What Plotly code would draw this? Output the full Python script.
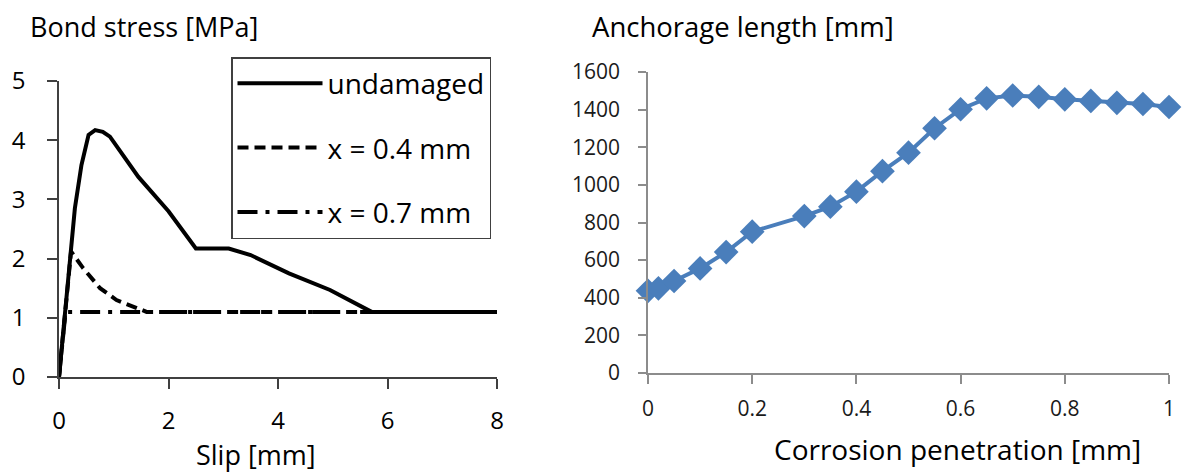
import plotly.graph_objects as go

# ---- Left chart: bond stress vs slip ----
slip_undamaged = [0, 0.11, 0.2, 0.29, 0.41, 0.54, 0.66, 0.8, 0.93, 1.2, 1.45, 2.0, 2.5, 3.1, 3.5, 4.2, 4.95, 5.71, 8]
tau_undamaged = [0, 1.05, 2.0, 2.85, 3.58, 4.09, 4.17, 4.14, 4.06, 3.72, 3.38, 2.8, 2.17, 2.17, 2.06, 1.75, 1.47, 1.1, 1.1]
slip_x04 = [0, 0.1, 0.22, 0.44, 0.75, 1.05, 1.42, 1.6, 8]
tau_x04 = [0, 1.0, 2.12, 1.84, 1.5, 1.3, 1.16, 1.1, 1.1]
slip_x07 = [0, 0.12, 8]
tau_x07 = [0, 1.1, 1.1]
names = ["undamaged", "x = 0.4 mm", "x = 0.7 mm"]

# ---- Right chart: anchorage length vs corrosion penetration ----
corrosion = [0, 0.02, 0.05, 0.1, 0.15, 0.2, 0.3, 0.35, 0.4, 0.45, 0.5, 0.55, 0.6, 0.65, 0.7, 0.75, 0.8, 0.85, 0.9, 0.95, 1.0]
anchorage = [437, 450, 489, 556, 643, 751, 834, 884, 964, 1073, 1171, 1301, 1402, 1460, 1475, 1468, 1455, 1446, 1436, 1430, 1414]

left_xticks = [0, 2, 4, 6, 8]
left_yticks = [0, 1, 2, 3, 4, 5]
right_xticks = [0, 0.2, 0.4, 0.6, 0.8, 1]
right_xtick_text = ["0", "0.2", "0.4", "0.6", "0.8", "1"]
right_yticks = list(range(0, 1601, 200))

W, H = 1182, 474
FONT = "Open Sans"

def px_x(p):
    return p / W

def px_y(p):
    return 1 - p / H

fig = go.Figure()

fig.add_trace(go.Scatter(x=slip_x07, y=tau_x07, mode="lines", name=names[2],
                         line=dict(color="black", width=4, dash="20px,8px,4px,8px"),
                         legendgroup="c", legendrank=3, xaxis="x", yaxis="y"))
fig.add_trace(go.Scatter(x=slip_x04, y=tau_x04, mode="lines", name=names[1],
                         line=dict(color="black", width=4, dash="11px,6px"),
                         legendgroup="b", legendrank=2, xaxis="x", yaxis="y"))
fig.add_trace(go.Scatter(x=slip_undamaged, y=tau_undamaged, mode="lines", name=names[0],
                         line=dict(color="black", width=4),
                         legendgroup="a", legendrank=1, xaxis="x", yaxis="y"))

fig.add_trace(go.Scatter(x=corrosion, y=anchorage, mode="lines+markers",
                         line=dict(color="#4a7ebb", width=4),
                         marker=dict(symbol="diamond", size=19, color="#4a7ebb"),
                         cliponaxis=False, showlegend=False, xaxis="x2", yaxis="y2"))

left_axis_color = "#404040"
right_axis_color = "#8c8c8c"

fig.update_layout(
    width=W, height=H,
    margin=dict(l=0, r=0, t=0, b=0, autoexpand=False),
    paper_bgcolor="white", plot_bgcolor="white",
    font=dict(family=FONT, color="black"),
    xaxis=dict(domain=[px_x(59), px_x(497)], range=[0, 8], tickvals=left_xticks, automargin=False,
               showgrid=False, zeroline=False, showline=True, linecolor=left_axis_color, linewidth=1.5,
               ticks="outside", ticklen=10, tickcolor=left_axis_color, tickwidth=1.5,
               tickfont=dict(size=24, family=FONT, color="black"), ticklabelstandoff=11),
    yaxis=dict(domain=[px_y(377), px_y(81)], range=[0, 5], tickvals=left_yticks, automargin=False,
               showgrid=False, zeroline=False, showline=True, linecolor=left_axis_color, linewidth=1.5,
               ticks="outside", ticklen=10, tickcolor=left_axis_color, tickwidth=1.5,
               tickfont=dict(size=24, family=FONT, color="black"), ticklabelstandoff=17),
    xaxis2=dict(domain=[px_x(648), px_x(1169)], range=[0, 1], tickvals=right_xticks,
                ticktext=right_xtick_text, anchor="y2", automargin=False,
                showgrid=False, zeroline=False, showline=True, linecolor=right_axis_color, linewidth=1.5,
                ticks="outside", ticklen=9, tickcolor=right_axis_color, tickwidth=1.5,
                tickfont=dict(size=21, family=FONT, color="#1a1a1a"), ticklabelstandoff=7),
    yaxis2=dict(domain=[px_y(373), px_y(72)], range=[0, 1600], tickvals=right_yticks, anchor="x2",
                automargin=False,
                showgrid=False, zeroline=False, showline=True, linecolor=right_axis_color, linewidth=1.5,
                ticks="outside", ticklen=8, tickcolor=right_axis_color, tickwidth=1.5,
                tickfont=dict(size=21, family=FONT, color="#1a1a1a"), ticklabelstandoff=14),
    legend=dict(x=px_x(231), y=px_y(57), xanchor="left", yanchor="top",
                bordercolor="#404040", borderwidth=1.5, bgcolor="white",
                font=dict(size=28, family=FONT, color="black"),
                tracegroupgap=25, itemwidth=85),
    showlegend=True,
)

annotations = [
    dict(text="Bond stress [MPa]", x=px_x(28), y=px_y(26), xanchor="left", yanchor="middle", size=27),
    dict(text="Anchorage length [mm]", x=px_x(590), y=px_y(27), xanchor="left", yanchor="middle", size=27.5),
    dict(text="Slip [mm]", x=px_x(256), y=px_y(454), xanchor="center", yanchor="middle", size=27),
    dict(text="Corrosion penetration [mm]", x=px_x(957), y=px_y(449), xanchor="center", yanchor="middle", size=28),
]
for a in annotations:
    fig.add_annotation(text=a["text"], x=a["x"], y=a["y"], xref="paper", yref="paper",
                       xanchor=a["xanchor"], yanchor=a["yanchor"], showarrow=False,
                       font=dict(size=a["size"], family=FONT, color="black"))

fig.write_html("out.html", config={"displayModeBar": False},
               post_script="document.body.style.margin='0px';")
